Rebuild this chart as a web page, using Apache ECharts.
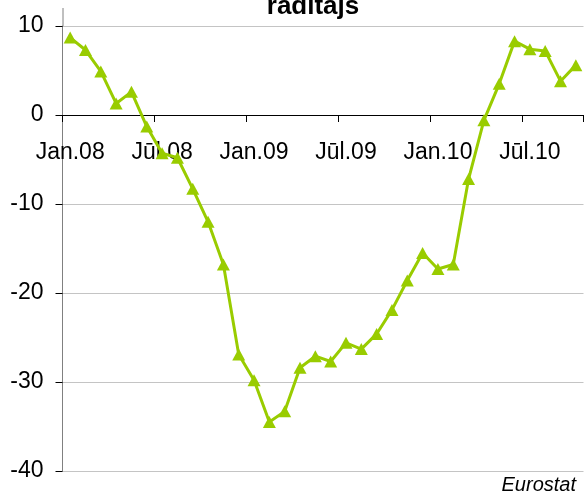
<!DOCTYPE html>
<html>
<head>
<meta charset="utf-8">
<script src="https://cdn.jsdelivr.net/npm/echarts@6/dist/echarts.min.js"></script>
<style>
html,body{margin:0;padding:0;background:#fff;}
#c{width:584px;height:496px;}
</style>
</head>
<body>
<div id="c"></div>
<script>
var categories = [
 'Jan.08','Feb.08','Mar.08','Apr.08','Mai.08','Jūn.08','Jūl.08','Aug.08','Sep.08','Okt.08','Nov.08','Dec.08',
 'Jan.09','Feb.09','Mar.09','Apr.09','Mai.09','Jūn.09','Jūl.09','Aug.09','Sep.09','Okt.09','Nov.09','Dec.09',
 'Jan.10','Feb.10','Mar.10','Apr.10','Mai.10','Jūn.10','Jūl.10','Aug.10','Sep.10','Okt.10'
];
var values = [8.7, 7.3, 4.9, 1.3, 2.6, -1.3, -4.3, -4.8, -8.3, -12.0, -16.8, -26.9,
 -29.8, -34.5, -33.3, -28.4, -27.1, -27.7, -25.6, -26.3, -24.6, -21.9, -18.6, -15.5,
 -17.3, -16.8, -7.2, -0.6, 3.5, 8.3, 7.4, 7.2, 3.8, 5.6];
var titleText = 'rādītājs';
var sourceText = 'Eurostat';
var yMin = -40, yMax = 10, yStep = 10;

var font = "'Liberation Sans', Arial, sans-serif";
var gridTop = 26, gridBottom = 25, chartH = 496;
var plotH = chartH - gridTop - gridBottom;
// distance from the bottom of the plot to the value 0 (computed from the axis range)
var zeroOffset = plotH * (0 - yMin) / (yMax - yMin);

var chart = echarts.init(document.getElementById('c'), null, {renderer:'canvas'});
chart.setOption({
  animation: false,
  backgroundColor: '#ffffff',
  title: {
    text: titleText,
    left: 308, top: -11,
    textAlign: 'center',
    textStyle: {fontFamily: font, fontSize: 26, fontWeight: 'bold', color: '#000'}
  },
  grid: {left: 62.5, right: 0.5, top: gridTop, bottom: gridBottom, containLabel: false, outerBoundsMode: 'none'},
  xAxis: {
    type: 'category',
    data: categories,
    boundaryGap: true,
    offset: -zeroOffset,
    axisLine: {onZero: false, lineStyle: {color: '#000', width: 1}},
    axisTick: {show: true, interval: 5, length: 7, lineStyle: {color: '#000'}},
    axisLabel: {interval: 5, margin: 26, fontFamily: font, fontSize: 23, color: '#000'},
    splitLine: {show: false}
  },
  yAxis: {
    type: 'value',
    min: yMin, max: yMax, interval: yStep,
    axisLine: {show: true, lineStyle: {color: '#808080', width: 1}},
    axisTick: {show: true, length: 7, lineStyle: {color: '#000'}},
    axisLabel: {margin: 19, fontFamily: font, fontSize: 23, color: '#000'},
    splitLine: {show: true, lineStyle: {color: '#c4c4c4', width: 1}}
  },
  graphic: [
    {type: 'line', shape: {x1: 63, y1: 8, x2: 63, y2: 26}, style: {stroke: '#808080', lineWidth: 1}, silent: true},
    {type: 'text', right: 8, bottom: 1, style: {text: sourceText, font: 'italic 20px ' + font, fill: '#000'}}
  ],
  series: [{
    type: 'line',
    data: values,
    symbol: 'triangle',
    symbolSize: [13, 12],
    showAllSymbol: true,
    lineStyle: {color: '#99cc00', width: 3},
    itemStyle: {color: '#99cc00', borderWidth: 0},
    z: 3
  }]
});
</script>
</body>
</html>
